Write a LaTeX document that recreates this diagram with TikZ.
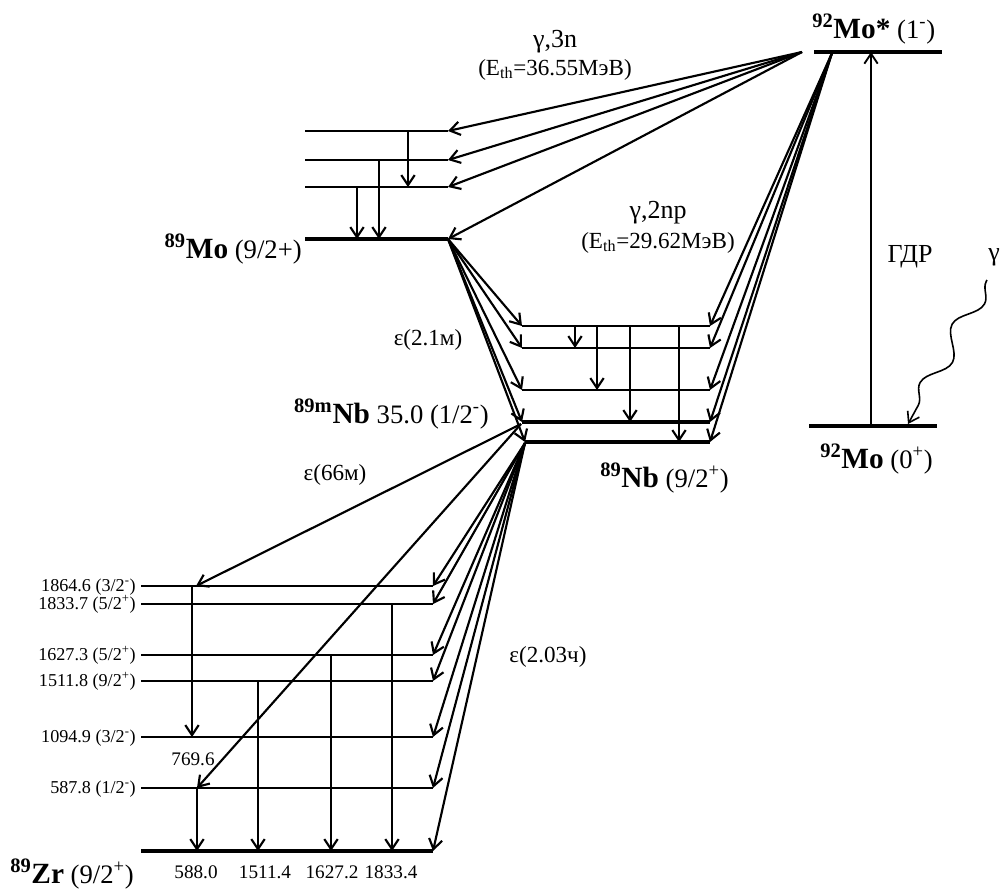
\documentclass[tikz,border=0pt]{standalone}
\usepackage{fontspec}
\setmainfont{Liberation Serif}
\usetikzlibrary{arrows.meta,decorations.pathmorphing}
\newcommand\nuc[2]{{\fontsize{22}{25}\selectfont\bfseries\textsuperscript{#1}#2}}
\begin{document}
\begin{tikzpicture}[x=0.75pt,y=-0.75pt,
  lvl/.style={line width=1pt},
  glvl/.style={line width=3pt},
  tr/.style={line width=1.6pt,-{Straight Barb[length=7.5pt,width=10pt]}},
  wavy/.style={line width=1.2pt,-{Straight Barb[length=7.5pt,width=10pt]},decorate,
    decoration={snake,segment length=50pt,amplitude=7pt,pre length=1pt,post length=9pt}},
  lab/.style={inner sep=0pt,font=\fontsize{20}{24}\selectfont},
  big/.style={inner sep=0pt,font=\fontsize{19.5}{23}\selectfont},
  mid/.style={inner sep=0pt,font=\fontsize{17.3}{20}\selectfont},
  sml/.style={inner sep=0pt,font=\fontsize{14.4}{17}\selectfont},
  zlab/.style={inner sep=0pt,font=\fontsize{13.6}{16}\selectfont}]
\useasboundingbox (0,0) rectangle (1003,890);

% ---------- 92Mo ----------
\coordinate (MsL) at (814,52);  \coordinate (MsR) at (942,52);
\coordinate (MgL) at (809,426); \coordinate (MgR) at (937,426);
\draw[glvl] (MsL) -- (MsR);
\draw[glvl] (MgL) -- (MgR);
\coordinate (gdrB) at (871,426); \coordinate (gdrT) at (871,52);
\draw[tr,line width=1.4pt] (gdrB) -- (gdrT);
\coordinate (gS) at (987,280); \coordinate (gE) at (908,424);
\draw[wavy] (gS) -- (gE);
\node[lab,anchor=base west] (lMs) at (812,38) {\nuc{92}{Mo*} (1\textsuperscript{-})};
\node[lab,anchor=base west] (lMg) at (820,468) {\nuc{92}{Mo} (0\textsuperscript{+})};
\node[big,anchor=base] (lgdr) at (910,262) {ГДР};
\node[big,anchor=base] (lgam) at (994,260) {γ};

% ---------- 89Mo ----------
\foreach \n/\y in {a/131,b/160,c/187}{
  \coordinate (Mo\n L) at (305,\y); \coordinate (Mo\n R) at (448,\y);
  \draw[lvl] (Mo\n L) -- (Mo\n R);}
\coordinate (MogL) at (305,239); \coordinate (MogR) at (448,239);
\draw[glvl] (MogL) -- (MogR);
\draw[tr] (408,131) coordinate (v1a) -- (408,187) coordinate (v1b);
\draw[tr] (379,160) coordinate (v2a) -- (379,239) coordinate (v2b);
\draw[tr] (357,187) coordinate (v3a) -- (357,239) coordinate (v3b);
\node[lab,anchor=base east] (lMo) at (302,258) {\nuc{89}{Mo} (9/2+)};

% fan gamma,3n
\coordinate (F3) at (802,52);
\foreach \t in {MoaR,MobR,MocR,MogR}{ \draw[tr] (F3) -- (\t); }
\node[big,anchor=base] (l3n) at (555,47) {γ,3n};
\node[mid,anchor=base] (l3nE) at (555,75) {(E\textsubscript{th}=36.55MэВ)};

% ---------- 89Nb ----------
\foreach \n/\y in {a/326,b/348,c/390}{
  \coordinate (Nb\n L) at (522,\y); \coordinate (Nb\n R) at (710,\y);
  \draw[lvl] (Nb\n L) -- (Nb\n R);}
\coordinate (NbmL) at (522,422); \coordinate (NbmR) at (710,422);
\coordinate (NbgL) at (525,442); \coordinate (NbgR) at (710,442);
\draw[glvl] (NbmL) -- (NbmR);
\draw[glvl] (NbgL) -- (NbgR);
\draw[tr] (575,326) coordinate (n1a) -- (575,348) coordinate (n1b);
\draw[tr] (597,326) coordinate (n2a) -- (597,390) coordinate (n2b);
\draw[tr] (630,326) coordinate (n3a) -- (630,422) coordinate (n3b);
\draw[tr] (679,326) coordinate (n4a) -- (679,442) coordinate (n4b);
\node[lab,anchor=base east] (lNbm) at (489,423) {\nuc{89m}{Nb} 35.0 (1/2\textsuperscript{-})};
\node[lab,anchor=base west] (lNbg) at (600,487) {\nuc{89}{Nb} (9/2\textsuperscript{+})};

% epsilon 2.1 m from 89Mo
\foreach \t in {NbaL,NbbL,NbcL,NbmL,NbgL}{ \draw[tr] (MogR) -- (\t); }
\node[mid,anchor=base] (le21) at (428,345) {ε(2.1м)};

% fan gamma,2np
\coordinate (F2) at (832,53);
\foreach \t in {NbaR,NbbR,NbcR,NbmR,NbgR}{ \draw[tr] (F2) -- (\t); }
\node[big,anchor=base] (l2np) at (658,218) {γ,2np};
\node[mid,anchor=base] (l2npE) at (658,248) {(E\textsubscript{th}=29.62MэВ)};

% ---------- 89Zr ----------
\foreach \n/\y/\t in {a/586/{1864.6 (3/2\textsuperscript{-})},b/604/{1833.7 (5/2\textsuperscript{+})},
  c/655/{1627.3 (5/2\textsuperscript{+})},d/681/{1511.8 (9/2\textsuperscript{+})},
  e/737/{1094.9 (3/2\textsuperscript{-})},f/788/{587.8 (1/2\textsuperscript{-})}}{
  \coordinate (Zr\n L) at (141,\y); \coordinate (Zr\n R) at (433,\y);
  \draw[lvl] (Zr\n L) -- (Zr\n R);
  \node[zlab,anchor=base east] (lZr\n) at (136,\y+5) {\t};}
\coordinate (ZrgL) at (141,851); \coordinate (ZrgR) at (433,851);
\draw[glvl] (ZrgL) -- (ZrgR);
\node[lab,anchor=base west] (lZr) at (10,883) {\nuc{89}{Zr} (9/2\textsuperscript{+})};

\draw[tr] (192,586) coordinate (z1a) -- (192,737) coordinate (z1b);
\draw[tr] (197,788) coordinate (z2a) -- (197,851) coordinate (z2b);
\draw[tr] (258,681) coordinate (z3a) -- (258,851) coordinate (z3b);
\draw[tr] (331,655) coordinate (z4a) -- (331,851) coordinate (z4b);
\draw[tr] (392,604) coordinate (z5a) -- (392,851) coordinate (z5b);
\node[sml,anchor=base] (b1) at (196,878) {588.0};
\node[sml,anchor=base] (b2) at (265,878) {1511.4};
\node[sml,anchor=base] (b3) at (332,878) {1627.2};
\node[sml,anchor=base] (b4) at (391,878) {1833.4};

% from 89mNb
\coordinate (Om) at (521,424);
\coordinate (e66) at (196,586);
\coordinate (g769) at (197,788);
\draw[tr] (Om) -- (e66);
\draw[tr] (Om) -- (g769);
\node[mid,anchor=base] (le66) at (335,480) {ε(66м)};
\node[sml,anchor=base] (l769) at (193,765) {769.6};

% from 89Nb
\coordinate (Og) at (525,443);
\foreach \t in {ZraR,ZrbR,ZrcR,ZrdR,ZreR,ZrfR,ZrgR}{ \draw[tr] (Og) -- (\t); }
\node[mid,anchor=base] (le203) at (548,662) {ε(2.03ч)};
\end{tikzpicture}
\end{document}
